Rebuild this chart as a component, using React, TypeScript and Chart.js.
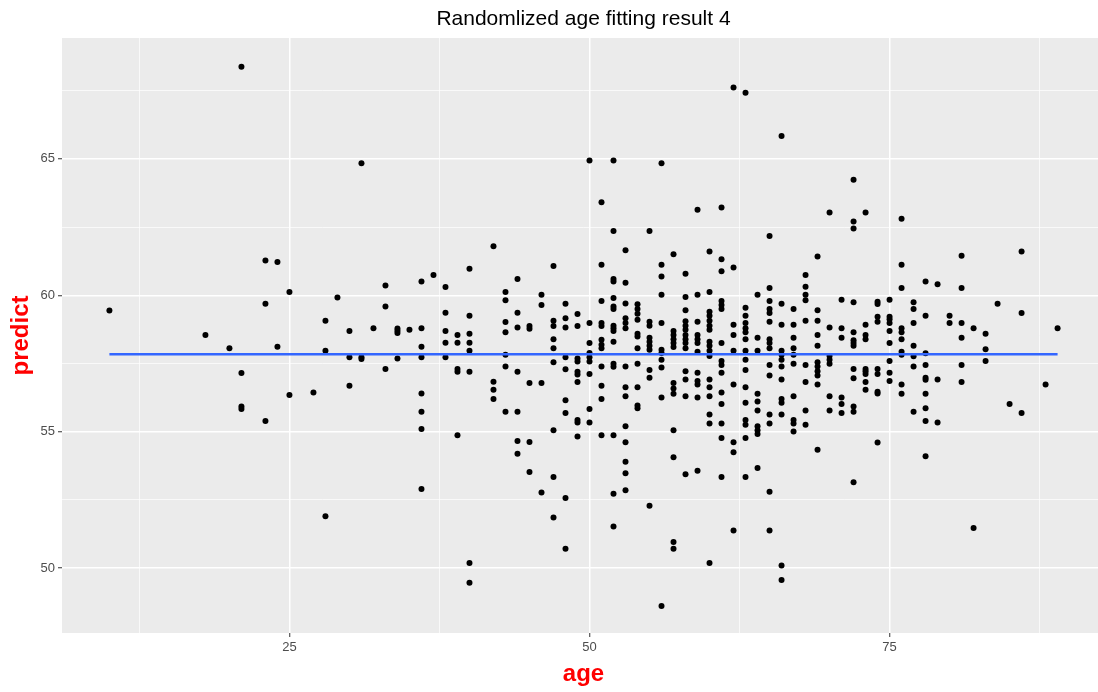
import React, { useEffect, useRef } from "react";
import { Chart, registerables } from "chart.js";

Chart.register(...registerables);

const chartTitle = "Randomlized age fitting result 4";
const xTitle = "age";
const yTitle = "predict";

// ages (x) with the predicted values observed at each age (y)
const ages: number[] = [
  10, 18, 20, 21, 23, 24, 25, 27, 28, 29, 30, 31, 32, 33, 34, 35, 36, 37, 38, 39,
  40, 42, 43, 44, 45, 46, 47, 48, 49, 50, 51, 52, 53, 54, 55, 56, 57, 58, 59, 60,
  61, 62, 63, 64, 65, 66, 67, 68, 69, 70, 71, 72, 73, 74, 75, 76, 77, 78, 79, 80,
  81, 82, 83, 84, 85, 86, 88, 89,
];

const predictByAge: number[][] = [
  [59.44],
  [58.54],
  [58.06],
  [68.38, 57.15, 55.92, 55.83],
  [61.27, 59.69, 55.39],
  [61.22, 58.11],
  [60.12, 56.34],
  [56.44],
  [59.07, 57.97, 51.9],
  [59.92],
  [58.69, 57.73, 56.68],
  [64.84, 57.73, 57.66],
  [58.79],
  [60.36, 59.59, 57.3],
  [58.78, 58.7, 58.62, 57.68],
  [58.74],
  [60.5, 58.79, 58.11, 57.73, 56.4, 55.73, 55.1, 52.9],
  [60.74],
  [60.3, 59.36, 58.69, 58.26, 57.73],
  [58.54, 58.26, 57.3, 57.2, 54.87],
  [60.97, 59.25, 58.59, 58.26, 57.97, 57.2, 50.19, 49.46],
  [61.8, 56.83, 56.54, 56.2],
  [60.12, 59.82, 59.02, 58.64, 57.82, 57.39, 55.73],
  [60.6, 59.36, 58.82, 57.2, 55.73, 54.66, 54.19],
  [58.87, 58.77, 56.78, 54.62, 53.52],
  [60.02, 59.64, 56.78, 52.77],
  [61.07, 59.07, 58.87, 58.39, 58.06, 57.54, 55.05, 53.34, 51.85],
  [59.69, 59.16, 58.82, 57.73, 57.29, 56.15, 55.68, 52.57, 50.71],
  [59.31, 58.87, 57.68, 57.57, 57.2, 57.1, 56.82, 55.43, 55.34, 54.82],
  [64.94, 58.98, 58.25, 57.88, 57.73, 57.57, 57.11, 55.83, 55.34],
  [63.41, 61.12, 59.79, 58.98, 58.87, 58.37, 58.19, 58.06, 57.39, 56.68, 56.2, 54.87],
  [64.94, 62.36, 60.6, 60.5, 59.9, 59.59, 59.5, 58.88, 58.79, 58.69, 58.3, 57.49, 57.38, 54.87, 52.72, 51.52],
  [61.65, 60.46, 59.7, 59.16, 58.98, 58.79, 57.39, 56.63, 56.3, 55.2, 54.61, 53.9, 53.48, 52.85],
  [59.67, 59.5, 59.32, 59.1, 58.59, 58.49, 58.06, 57.49, 56.63, 55.96, 55.86],
  [62.36, 59.03, 58.88, 58.44, 58.3, 58.15, 58.0, 57.26, 56.98, 52.28],
  [64.84, 61.12, 60.69, 60.02, 58.98, 58.0, 57.88, 57.64, 57.35, 56.25, 48.61],
  [61.5, 58.69, 58.54, 58.39, 58.25, 58.1, 56.78, 56.58, 56.39, 55.05, 54.06, 50.96, 50.71],
  [60.79, 59.94, 59.45, 59.05, 58.88, 58.74, 58.54, 58.39, 58.25, 58.06, 57.21, 56.91, 56.3, 53.44],
  [63.13, 60.02, 59.03, 58.54, 58.39, 58.25, 57.93, 57.16, 56.86, 56.73, 56.25, 53.57],
  [61.6, 60.12, 59.4, 59.25, 59.07, 58.88, 58.74, 58.3, 58.15, 57.97, 57.77, 56.91, 56.63, 56.3, 55.63, 55.3, 50.19],
  [63.22, 61.32, 60.88, 59.79, 59.64, 59.5, 58.25, 57.59, 57.44, 57.16, 56.44, 56.01, 55.3, 54.77, 53.34],
  [67.62, 61.02, 58.92, 58.54, 57.97, 56.73, 54.61, 54.25, 51.38],
  [67.42, 59.54, 59.25, 58.98, 58.79, 58.64, 58.39, 57.97, 57.64, 57.26, 56.63, 56.06, 55.43, 55.25, 54.77, 53.34],
  [60.02, 58.44, 57.97, 56.39, 56.11, 55.78, 55.2, 55.05, 54.91, 53.67],
  [62.17, 60.27, 59.79, 59.5, 59.35, 59.03, 58.39, 58.25, 58.06, 57.44, 57.06, 55.63, 55.3, 52.8, 51.38],
  [65.84, 59.69, 58.92, 57.97, 57.82, 57.64, 57.39, 56.91, 56.2, 56.06, 55.63, 50.09, 49.56],
  [59.5, 58.92, 58.44, 58.06, 57.82, 57.49, 56.3, 55.43, 55.3, 55.01],
  [60.74, 60.31, 60.02, 59.82, 59.07, 57.44, 56.82, 55.78, 55.25],
  [61.42, 59.45, 59.07, 58.54, 58.15, 57.54, 57.39, 57.21, 57.06, 56.73, 54.34],
  [63.03, 58.82, 57.77, 57.64, 57.49, 56.3, 55.78],
  [59.84, 58.79, 58.44, 56.25, 56.01, 55.68],
  [64.23, 62.7, 62.45, 59.74, 58.64, 58.35, 58.25, 58.15, 57.3, 56.96, 55.92, 55.73, 53.15],
  [63.03, 58.92, 58.54, 58.39, 57.3, 57.21, 57.11, 56.82, 56.54],
  [59.76, 59.68, 59.21, 59.03, 57.3, 57.11, 56.46, 56.4, 54.6],
  [59.84, 59.21, 59.12, 58.98, 58.69, 58.25, 57.59, 57.16, 56.86],
  [62.8, 61.12, 60.27, 58.79, 58.64, 58.39, 57.93, 57.82, 56.73, 56.39],
  [59.74, 59.5, 58.98, 58.15, 57.76, 57.39, 55.73],
  [60.5, 59.25, 57.87, 57.44, 56.98, 56.9, 56.39, 55.86, 55.39, 54.1],
  [60.4, 56.91, 55.34],
  [59.25, 58.98],
  [61.45, 60.27, 58.98, 58.44, 57.44, 56.82],
  [58.79, 51.47],
  [58.59, 58.02, 57.59],
  [59.69],
  [56.01],
  [61.6, 59.35, 55.68],
  [56.73],
  [58.79],
];

// linear fit line (flat)
const fitAges: number[] = [10, 89];
const fitPredicts: number[] = [57.84, 57.84];

const xTickValues: number[] = [12.5, 25, 37.5, 50, 62.5, 75, 87.5];
const xTickLabels: string[] = ["", "25", "", "50", "", "75", ""];
const yTickValues: number[] = [50, 52.5, 55, 57.5, 60, 62.5, 65, 67.5];
const yTickLabels: string[] = ["50", "", "55", "", "60", "", "65", ""];

const FONT = "'Liberation Sans', Arial, Helvetica, sans-serif";

export default function App() {
  const ref = useRef<HTMLCanvasElement | null>(null);

  useEffect(() => {
    const canvas = ref.current;
    if (!canvas) return;

    const points: { x: number; y: number }[] = [];
    ages.forEach((a, i) => {
      predictByAge[i].forEach((p) => points.push({ x: a, y: p }));
    });
    const fitLine = fitAges.map((a, i) => ({ x: a, y: fitPredicts[i] }));

    const panelBg = {
      id: "panelBg",
      beforeDraw(chart: any) {
        const { ctx, chartArea: a } = chart;
        ctx.save();
        ctx.fillStyle = "#EBEBEB";
        ctx.fillRect(a.left, a.top, a.right - a.left, a.bottom - a.top);
        ctx.restore();
      },
    };

    const isMajorX = (v: number) => Math.abs(v % 25) < 1e-6;
    const isMajorY = (v: number) => Math.abs(v % 5) < 1e-6;

    const chart = new Chart(canvas, {
      type: "scatter",
      data: {
        datasets: [
          {
            label: "fit",
            data: fitLine,
            showLine: true,
            borderColor: "#3366FF",
            borderWidth: 2.5,
            pointRadius: 0,
            fill: false,
          } as any,
          {
            label: "points",
            data: points,
            backgroundColor: "#000000",
            borderWidth: 0,
            pointRadius: 3,
          },
        ],
      },
      options: {
        responsive: false,
        animation: false,
        events: [],
        layout: { padding: { left: 0, right: 7, top: 0, bottom: 0 } },
        plugins: {
          legend: { display: false },
          tooltip: { enabled: false },
          title: {
            display: true,
            text: chartTitle,
            fullSize: false,
            color: "#000000",
            font: { family: FONT, size: 21, weight: "normal" },
            padding: { top: 7, bottom: 5.8 },
          },
        },
        scales: {
          x: {
            type: "linear",
            min: 6.05,
            max: 92.95,
            afterFit: (s: any) => {
              s.height = 59;
            },
            afterBuildTicks: (s: any) => {
              s.ticks = xTickValues.map((v) => ({ value: v }));
            },
            border: { display: false },
            grid: {
              color: "#FFFFFF",
              lineWidth: (c: any) => (c.tick && isMajorX(c.tick.value) ? 1.5 : 0.7),
              drawTicks: true,
              tickLength: 4,
              tickWidth: 1,
              tickColor: (c: any) => (c.tick && isMajorX(c.tick.value) ? "#333333" : "rgba(0,0,0,0)"),
            },
            ticks: {
              color: "#4D4D4D",
              font: { family: FONT, size: 13 },
              padding: 3,
              maxRotation: 0,
              autoSkip: false,
              callback: (_v: any, i: number) => xTickLabels[i],
            },
            title: {
              display: true,
              text: xTitle,
              color: "#FF0000",
              font: { family: FONT, size: 24, weight: "bold" },
              padding: { top: 0, bottom: 3 },
            },
          },
          y: {
            type: "linear",
            min: 47.62,
            max: 69.43,
            afterFit: (s: any) => {
              s.width = 62;
            },
            afterBuildTicks: (s: any) => {
              s.ticks = yTickValues.map((v) => ({ value: v }));
            },
            border: { display: false },
            grid: {
              color: "#FFFFFF",
              lineWidth: (c: any) => (c.tick && isMajorY(c.tick.value) ? 1.5 : 0.7),
              drawTicks: true,
              tickLength: 4,
              tickWidth: 1,
              tickColor: (c: any) => (c.tick && isMajorY(c.tick.value) ? "#333333" : "rgba(0,0,0,0)"),
            },
            ticks: {
              color: "#4D4D4D",
              font: { family: FONT, size: 13 },
              padding: 3,
              autoSkip: false,
              callback: (_v: any, i: number) => yTickLabels[i],
            },
            title: {
              display: true,
              text: yTitle,
              color: "#FF0000",
              font: { family: FONT, size: 24, weight: "bold" },
              padding: { top: 7, bottom: 0 },
            },
          },
        },
      },
      plugins: [panelBg],
    });

    return () => chart.destroy();
  }, []);

  return (
    <div
      style={{
        position: "fixed",
        left: 0,
        top: 0,
        width: 1098,
        height: 692,
        overflow: "hidden",
        background: "#FFFFFF",
      }}
    >
      <canvas ref={ref} width={1112} height={692} style={{ display: "block" }} />
    </div>
  );
}
